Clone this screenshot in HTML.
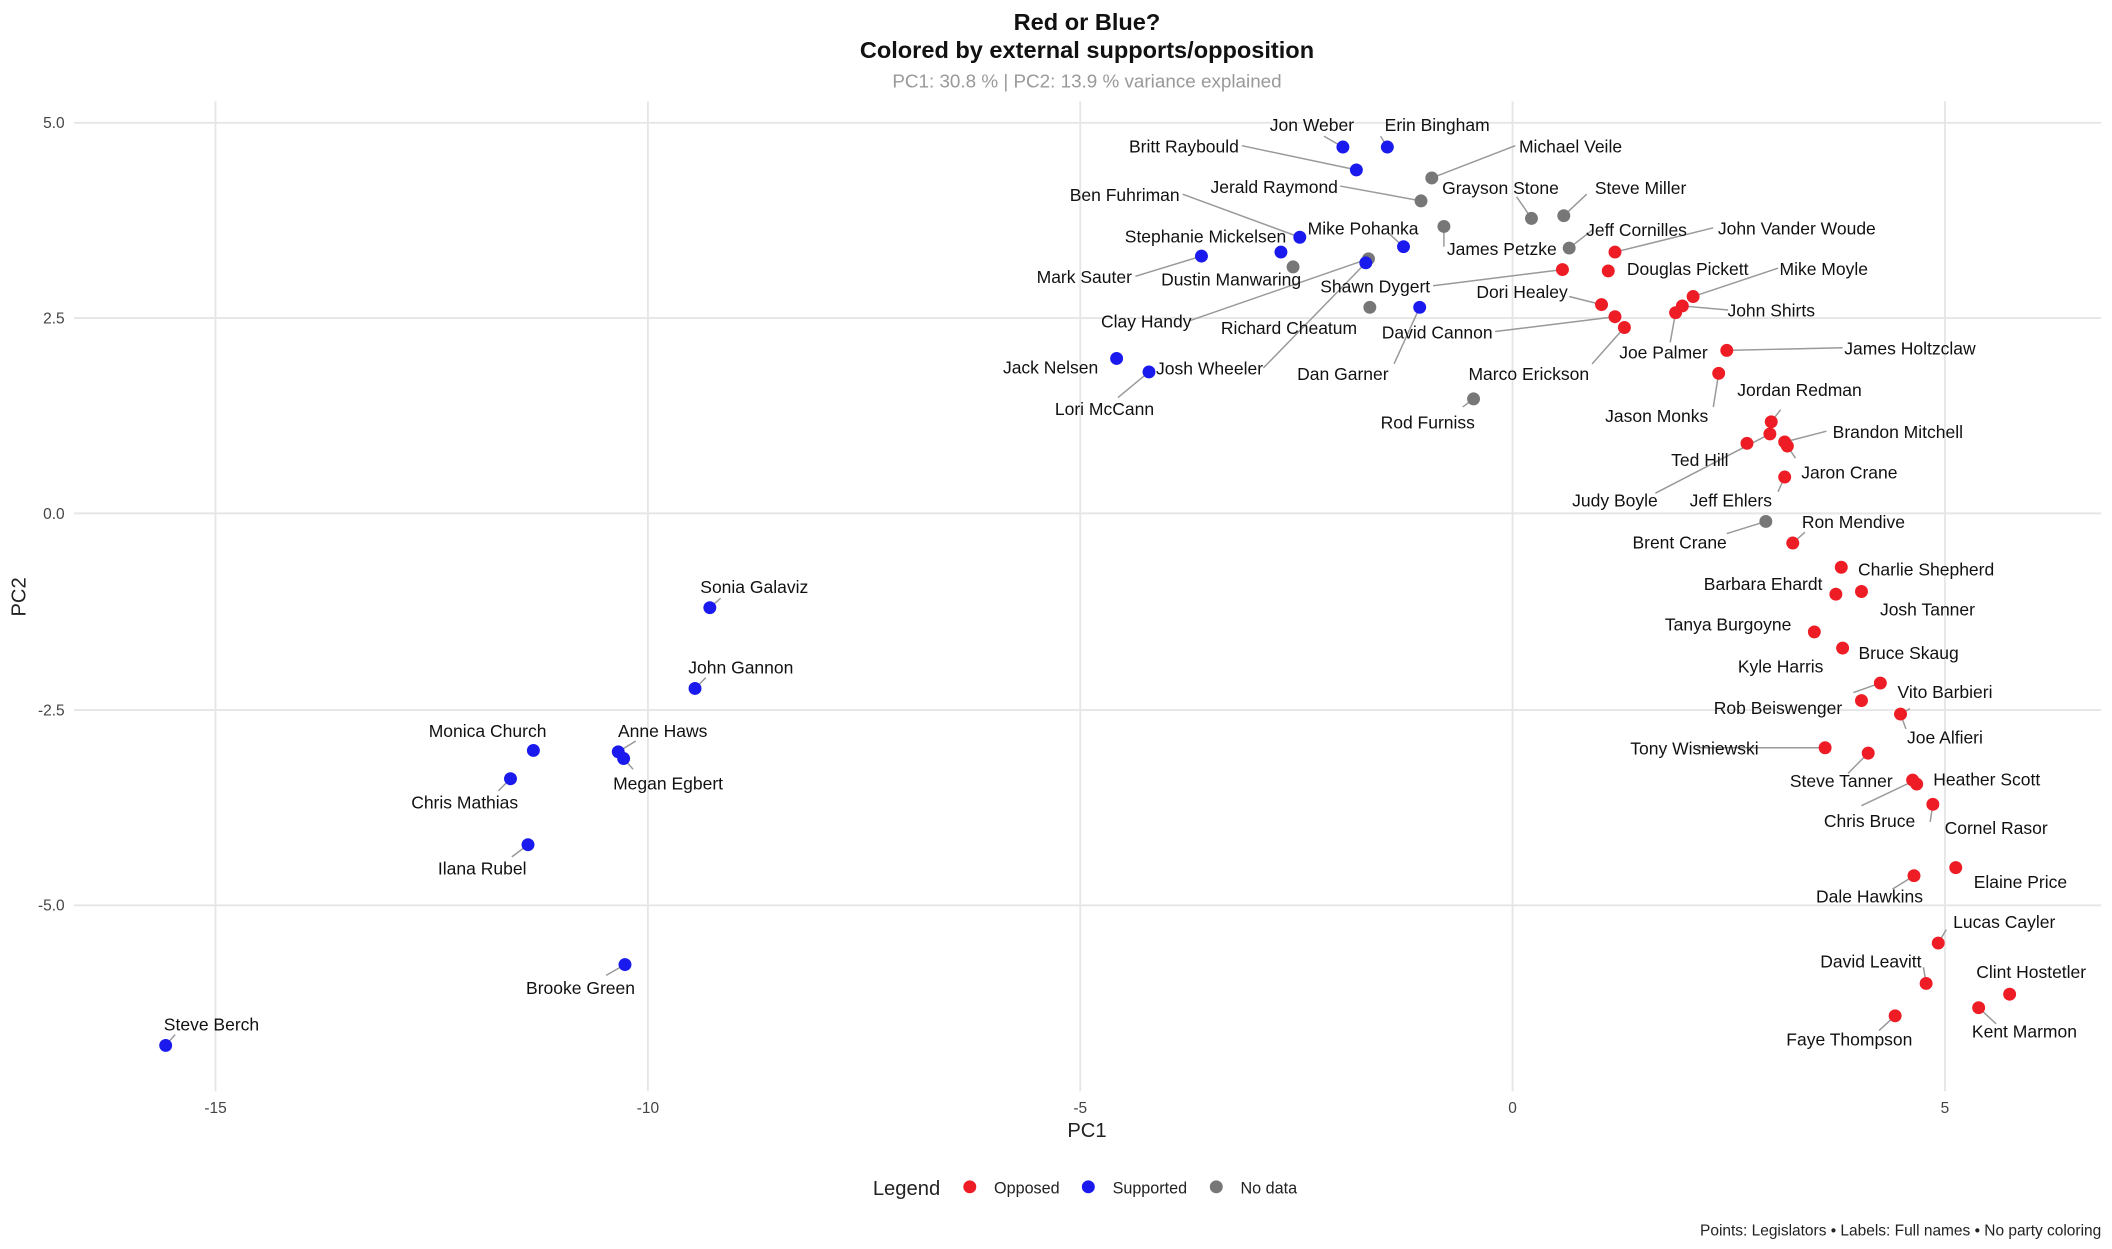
<!DOCTYPE html>
<html><head><meta charset="utf-8"><style>
html,body{margin:0;padding:0;background:#fff}
svg{display:block}
text{font-family:"Liberation Sans",Arial,sans-serif}
.l{font-size:13px;fill:#111;text-anchor:middle}
.t{font-size:11.5px;fill:#444}
.s{stroke:#999;stroke-width:1.1}
.R{fill:#ee1c25}.B{fill:#1a1aee}.G{fill:#777}
</style></head><body>
<svg width="2112" height="1249" viewBox="0 0 1568 927" xmlns="http://www.w3.org/2000/svg">
<rect width="1568" height="927" fill="#fff"/>
<g stroke="#e6e6e6" stroke-width="1.4">
<line x1="55" y1="91" x2="1560" y2="91"/><line x1="55" y1="236" x2="1560" y2="236"/><line x1="55" y1="381" x2="1560" y2="381"/><line x1="55" y1="527" x2="1560" y2="527"/><line x1="55" y1="672" x2="1560" y2="672"/>
<line x1="160" y1="75" x2="160" y2="810"/><line x1="481" y1="75" x2="481" y2="810"/><line x1="802" y1="75" x2="802" y2="810"/><line x1="1123" y1="75" x2="1123" y2="810"/><line x1="1444" y1="75" x2="1444" y2="810"/>
</g>
<g class="t" text-anchor="end"><text x="48" y="95">5.0</text><text x="48" y="240">2.5</text><text x="48" y="385">0.0</text><text x="48" y="531">-2.5</text><text x="48" y="676">-5.0</text></g>
<g class="t" text-anchor="middle"><text x="160" y="826">-15</text><text x="481" y="826">-10</text><text x="802" y="826">-5</text><text x="1123" y="826">0</text><text x="1444" y="826">5</text></g>
<text x="807" y="844" font-size="15" text-anchor="middle" fill="#222">PC1</text>
<text x="0" y="0" font-size="15" text-anchor="middle" fill="#222" transform="translate(19,443) rotate(-90)">PC2</text>
<text x="807" y="22" font-size="17.5" font-weight="bold" text-anchor="middle" fill="#111">Red or Blue?</text>
<text x="807" y="43" font-size="17.5" font-weight="bold" text-anchor="middle" fill="#111">Colored by external supports/opposition</text>
<text x="807" y="65" font-size="14" text-anchor="middle" fill="#999">PC1: 30.8 % | PC2: 13.9 % variance explained</text>

<g class="s">
<line x1="922" y1="108" x2="1007" y2="126"/><line x1="878" y1="144" x2="965" y2="176"/><line x1="843" y1="205" x2="892" y2="190"/>
<line x1="883" y1="238" x2="1016" y2="192"/><line x1="938" y1="273" x2="1014" y2="195"/><line x1="830" y1="295" x2="853" y2="276"/>
<line x1="1035" y1="270" x2="1054" y2="228"/><line x1="1125" y1="108" x2="1063" y2="132"/><line x1="995" y1="138" x2="1055" y2="149"/>
<line x1="1072" y1="168" x2="1072" y2="183"/><line x1="1064" y1="212" x2="1160" y2="200"/><line x1="1110" y1="246" x2="1199" y2="235"/>
<line x1="1272" y1="169" x2="1199" y2="187"/><line x1="1320" y1="199" x2="1257" y2="220"/><line x1="1283" y1="230" x2="1249" y2="227"/>
<line x1="1368" y1="258" x2="1282" y2="260"/><line x1="1182" y1="270" x2="1206" y2="243"/><line x1="1272" y1="302" x2="1276" y2="277"/>
<line x1="1229" y1="366" x2="1314" y2="322"/><line x1="1356" y1="320" x2="1325" y2="328"/><line x1="1260" y1="555" x2="1355" y2="555"/>
<line x1="1382" y1="598" x2="1420" y2="580"/><line x1="1282" y1="396" x2="1311" y2="387"/>
<line x1="1240" y1="254" x2="1244" y2="232"/>
<line x1="1126" y1="146" x2="1137" y2="162"/><line x1="1178" y1="144" x2="1161" y2="160"/><line x1="1183" y1="170" x2="1165" y2="184"/>
<line x1="1165" y1="220" x2="1189" y2="226"/><line x1="1376" y1="514" x2="1396" y2="507"/><line x1="1415" y1="541" x2="1411" y2="530"/>
<line x1="1372" y1="574" x2="1387" y2="559"/><line x1="1418" y1="526" x2="1411" y2="530"/><line x1="1433" y1="610" x2="1435" y2="597"/>
<line x1="1405" y1="660" x2="1421" y2="650"/><line x1="1445" y1="690" x2="1439" y2="700"/><line x1="1428" y1="718" x2="1430" y2="730"/>
<line x1="1395" y1="765" x2="1407" y2="754"/><line x1="1482" y1="760" x2="1469" y2="748"/><line x1="1340" y1="395" x2="1331" y2="403"/>
<line x1="1320" y1="365" x2="1325" y2="354"/><line x1="1333" y1="340" x2="1327" y2="331"/><line x1="1322" y1="304" x2="1315" y2="313"/>
<line x1="1025" y1="101" x2="1030" y2="109"/><line x1="983" y1="101" x2="997" y2="109"/><line x1="1032" y1="174" x2="1042" y2="183"/>
<line x1="1086" y1="302" x2="1094" y2="296"/><line x1="380" y1="636" x2="392" y2="627"/><line x1="370" y1="587" x2="379" y2="578"/>
<line x1="450" y1="724" x2="464" y2="716"/><line x1="130" y1="768" x2="123" y2="776"/><line x1="535" y1="444" x2="527" y2="451"/>
<line x1="524" y1="503" x2="516" y2="511"/><line x1="472" y1="550" x2="459" y2="558"/><line x1="470" y1="571" x2="463" y2="563"/>
</g>

<g>
<circle class="B" cx="997" cy="109" r="4.8"/><circle class="B" cx="1030" cy="109" r="4.8"/><circle class="B" cx="1007" cy="126" r="4.8"/>
<circle class="B" cx="965" cy="176" r="4.8"/><circle class="B" cx="951" cy="187" r="4.8"/><circle class="B" cx="1042" cy="183" r="4.8"/>
<circle class="B" cx="892" cy="190" r="4.8"/><circle class="B" cx="829" cy="266" r="4.8"/><circle class="B" cx="853" cy="276" r="4.8"/>
<circle class="G" cx="1016" cy="192" r="4.8"/><circle class="B" cx="1014" cy="195" r="4.8"/><circle class="B" cx="1054" cy="228" r="4.8"/>
<circle class="B" cx="527" cy="451" r="4.8"/><circle class="B" cx="516" cy="511" r="4.8"/><circle class="B" cx="396" cy="557" r="4.8"/>
<circle class="B" cx="459" cy="558" r="4.8"/><circle class="B" cx="463" cy="563" r="4.8"/><circle class="B" cx="379" cy="578" r="4.8"/>
<circle class="B" cx="392" cy="627" r="4.8"/><circle class="B" cx="464" cy="716" r="4.8"/><circle class="B" cx="123" cy="776" r="4.8"/>
<circle class="G" cx="1063" cy="132" r="4.8"/><circle class="G" cx="1055" cy="149" r="4.8"/><circle class="G" cx="1137" cy="162" r="4.8"/>
<circle class="G" cx="1161" cy="160" r="4.8"/><circle class="G" cx="1072" cy="168" r="4.8"/><circle class="G" cx="1165" cy="184" r="4.8"/>
<circle class="G" cx="960" cy="198" r="4.8"/><circle class="G" cx="1017" cy="228" r="4.8"/><circle class="G" cx="1094" cy="296" r="4.8"/>
<circle class="G" cx="1311" cy="387" r="4.8"/>
<circle class="R" cx="1199" cy="187" r="4.8"/><circle class="R" cx="1194" cy="201" r="4.8"/><circle class="R" cx="1160" cy="200" r="4.8"/>
<circle class="R" cx="1257" cy="220" r="4.8"/><circle class="R" cx="1189" cy="226" r="4.8"/><circle class="R" cx="1249" cy="227" r="4.8"/>
<circle class="R" cx="1244" cy="232" r="4.8"/><circle class="R" cx="1199" cy="235" r="4.8"/><circle class="R" cx="1206" cy="243" r="4.8"/>
<circle class="R" cx="1282" cy="260" r="4.8"/><circle class="R" cx="1276" cy="277" r="4.8"/><circle class="R" cx="1315" cy="313" r="4.8"/>
<circle class="R" cx="1314" cy="322" r="4.8"/><circle class="R" cx="1325" cy="328" r="4.8"/><circle class="R" cx="1327" cy="331" r="4.8"/>
<circle class="R" cx="1297" cy="329" r="4.8"/><circle class="R" cx="1325" cy="354" r="4.8"/><circle class="R" cx="1331" cy="403" r="4.8"/>
<circle class="R" cx="1367" cy="421" r="4.8"/><circle class="R" cx="1363" cy="441" r="4.8"/><circle class="R" cx="1382" cy="439" r="4.8"/>
<circle class="R" cx="1347" cy="469" r="4.8"/><circle class="R" cx="1368" cy="481" r="4.8"/><circle class="R" cx="1396" cy="507" r="4.8"/>
<circle class="R" cx="1382" cy="520" r="4.8"/><circle class="R" cx="1411" cy="530" r="4.8"/><circle class="R" cx="1355" cy="555" r="4.8"/>
<circle class="R" cx="1387" cy="559" r="4.8"/><circle class="R" cx="1420" cy="579" r="4.8"/><circle class="R" cx="1423" cy="582" r="4.8"/>
<circle class="R" cx="1435" cy="597" r="4.8"/><circle class="R" cx="1452" cy="644" r="4.8"/><circle class="R" cx="1421" cy="650" r="4.8"/>
<circle class="R" cx="1439" cy="700" r="4.8"/><circle class="R" cx="1430" cy="730" r="4.8"/><circle class="R" cx="1492" cy="738" r="4.8"/>
<circle class="R" cx="1469" cy="748" r="4.8"/><circle class="R" cx="1407" cy="754" r="4.8"/>
</g>

<g class="l">
<text x="974" y="97">Jon Weber</text><text x="1067" y="97">Erin Bingham</text><text x="879" y="113">Britt Raybould</text>
<text x="835" y="149">Ben Fuhriman</text><text x="895" y="180">Stephanie Mickelsen</text><text x="1012" y="174">Mike Pohanka</text>
<text x="805" y="210">Mark Sauter</text><text x="780" y="277">Jack Nelsen</text><text x="898" y="278">Josh Wheeler</text>
<text x="820" y="308">Lori McCann</text><text x="851" y="243">Clay Handy</text><text x="957" y="248">Richard Cheatum</text>
<text x="997" y="282">Dan Garner</text><text x="1067" y="251">David Cannon</text><text x="560" y="440">Sonia Galaviz</text>
<text x="550" y="500">John Gannon</text><text x="362" y="547">Monica Church</text><text x="492" y="547">Anne Haws</text>
<text x="496" y="586">Megan Egbert</text><text x="345" y="600">Chris Mathias</text><text x="358" y="649">Ilana Rubel</text>
<text x="431" y="738">Brooke Green</text><text x="157" y="765">Steve Berch</text>
<text x="1166" y="113">Michael Veile</text><text x="946" y="143">Jerald Raymond</text><text x="1114" y="144">Grayson Stone</text>
<text x="1218" y="144">Steve Miller</text><text x="1115" y="189">James Petzke</text><text x="1215" y="175">Jeff Cornilles</text>
<text x="914" y="212">Dustin Manwaring</text><text x="1021" y="217">Shawn Dygert</text><text x="1060" y="318">Rod Furniss</text>
<text x="1247" y="407">Brent Crane</text><text x="1334" y="174">John Vander Woude</text><text x="1253" y="204">Douglas Pickett</text>
<text x="1354" y="204">Mike Moyle</text><text x="1130" y="221">Dori Healey</text><text x="1315" y="235">John Shirts</text>
<text x="1235" y="266">Joe Palmer</text><text x="1135" y="282">Marco Erickson</text><text x="1418" y="263">James Holtzclaw</text>
<text x="1230" y="313">Jason Monks</text><text x="1336" y="294">Jordan Redman</text><text x="1409" y="325">Brandon Mitchell</text>
<text x="1262" y="346">Ted Hill</text><text x="1373" y="355">Jaron Crane</text><text x="1199" y="376">Judy Boyle</text>
<text x="1285" y="376">Jeff Ehlers</text><text x="1376" y="392">Ron Mendive</text><text x="1430" y="427">Charlie Shepherd</text>
<text x="1309" y="438">Barbara Ehardt</text><text x="1431" y="457">Josh Tanner</text><text x="1283" y="468">Tanya Burgoyne</text>
<text x="1322" y="499">Kyle Harris</text><text x="1417" y="489">Bruce Skaug</text><text x="1320" y="530">Rob Beiswenger</text>
<text x="1444" y="518">Vito Barbieri</text><text x="1444" y="552">Joe Alfieri</text><text x="1258" y="560">Tony Wisniewski</text>
<text x="1367" y="584">Steve Tanner</text><text x="1475" y="583">Heather Scott</text><text x="1388" y="614">Chris Bruce</text>
<text x="1482" y="619">Cornel Rasor</text><text x="1500" y="659">Elaine Price</text><text x="1388" y="670">Dale Hawkins</text>
<text x="1488" y="689">Lucas Cayler</text><text x="1389" y="718">David Leavitt</text><text x="1508" y="726">Clint Hostetler</text>
<text x="1503" y="770">Kent Marmon</text><text x="1373" y="776">Faye Thompson</text>
</g>

<text x="648" y="887" font-size="15" fill="#222">Legend</text>
<circle class="R" cx="720" cy="881" r="4.8"/><text x="738" y="886" font-size="12" fill="#222">Opposed</text>
<circle class="B" cx="808" cy="881" r="4.8"/><text x="826" y="886" font-size="12" fill="#222">Supported</text>
<circle class="G" cx="903" cy="881" r="4.8"/><text x="921" y="886" font-size="12" fill="#222">No data</text>
<text x="1560" y="917" font-size="11.5" text-anchor="end" fill="#222">Points: Legislators • Labels: Full names • No party coloring</text>
</svg>
</body></html>
